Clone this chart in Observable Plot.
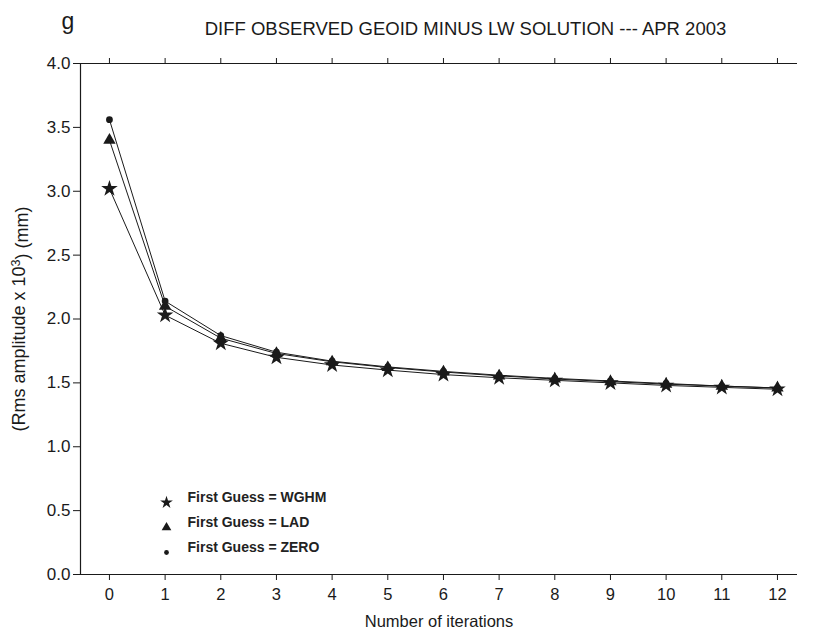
<!DOCTYPE html>
<html>
<head>
<meta charset="utf-8">
<script src="https://cdn.jsdelivr.net/npm/d3@7"></script>
<script src="https://cdn.jsdelivr.net/npm/@observablehq/plot@0.6"></script>
<style>
  html, body { margin: 0; padding: 0; background: #fff; }
  #chart svg { display: block; }
</style>
</head>
<body>
<div id="chart"></div>
<script>
const iterations = [0, 1, 2, 3, 4, 5, 6, 7, 8, 9, 10, 11, 12];
const wghm = [3.02, 2.03, 1.81, 1.70, 1.64, 1.60, 1.565, 1.54, 1.52, 1.50, 1.48, 1.465, 1.45];
const lad  = [3.40, 2.10, 1.85, 1.73, 1.665, 1.62, 1.585, 1.555, 1.53, 1.51, 1.49, 1.475, 1.46];
const zero = [3.56, 2.14, 1.87, 1.74, 1.67, 1.625, 1.59, 1.56, 1.535, 1.515, 1.495, 1.475, 1.46];
const seriesNames = ["First Guess = WGHM", "First Guess = LAD", "First Guess = ZERO"];
const seriesSymbols = ["star", "triangle", "circle"];
const seriesSizes = [5.2, 4.6, 3.4];
const legendSizes = [4, 3.6, 2.4];
const yTicks = [0, 0.5, 1.0, 1.5, 2.0, 2.5, 3.0, 3.5, 4.0];
const xDomain = [-0.52, 12.36];
const yDomain = [0, 4];
const panelLetter = "g";
const title = "DIFF OBSERVED GEOID MINUS LW SOLUTION --- APR 2003";
const xLabel = "Number of iterations";
const yLabel = "(Rms amplitude x 10³) (mm)";

const allValues = [wghm, lad, zero];
const rows = [];
allValues.forEach((vals, s) => vals.forEach((v, i) => rows.push({x: iterations[i], y: v, s})));
const legendRows = seriesNames.map((name, s) => ({name, s}));

const ink = "#1a1a1a";
const font = "'Liberation Sans', Arial, sans-serif";

const marks = [
  // frame: left, top, bottom
  Plot.ruleX([xDomain[0]], {stroke: ink, strokeWidth: 1.2}),
  Plot.ruleY([yDomain[0]], {stroke: ink, strokeWidth: 1.2}),
  Plot.ruleY([yDomain[1]], {stroke: ink, strokeWidth: 1.2}),
  Plot.axisY(yTicks, {anchor: "left", tickSize: 7, tickPadding: 3, tickFormat: d3.format(".1f"), label: null, fontSize: 17, stroke: ink, fill: ink}),
  Plot.axisX(iterations, {anchor: "bottom", tickSize: 6, tickPadding: 8, tickFormat: d => String(d), label: null, fontSize: 16.5, stroke: ink, fill: ink}),
  Plot.axisX(iterations, {anchor: "top", tickSize: 6, tickFormat: () => "", label: null, stroke: ink}),
  ...allValues.map((vals, s) =>
    Plot.line(rows.filter(r => r.s === s), {x: "x", y: "y", stroke: ink, strokeWidth: 1})
  ),
  ...allValues.map((vals, s) =>
    Plot.dot(rows.filter(r => r.s === s), {x: "x", y: "y", symbol: () => seriesSymbols[s], r: seriesSizes[s], fill: ink, stroke: "none"})
  ),
  // legend
  ...legendRows.map((d, s) =>
    Plot.dot([d], {frameAnchor: "bottom-left", dx: 86, dy: -72 + s * 25, symbol: () => seriesSymbols[s], r: legendSizes[s], fill: ink, stroke: "none"})
  ),
  ...legendRows.map((d, s) =>
    Plot.text([d], {frameAnchor: "bottom-left", text: "name", dx: 107, dy: -73 + s * 25, textAnchor: "start", fontWeight: "bold", fontSize: 14, fill: "#222"})
  ),
  // title & panel letter
  Plot.text([title], {frameAnchor: "top-left", text: d => d, dy: -42, dx: 385, textAnchor: "middle", fontSize: 18.5, fill: ink}),
  Plot.text([panelLetter], {frameAnchor: "top-left", text: d => d, dx: -19, dy: -51, fontSize: 23, textAnchor: "start", fill: ink}),
  Plot.text([xLabel], {frameAnchor: "bottom", text: d => d, dy: 52, dx: 0, fontSize: 16.5, fill: ink}),
  Plot.text([yLabel], {frameAnchor: "left", text: d => d, dx: -61, rotate: -90, textAnchor: "middle", fontSize: 18, fill: ink})
];

const chart = Plot.plot({
  width: 827,
  height: 635,
  marginLeft: 80,
  marginRight: 30,
  marginTop: 63,
  marginBottom: 61,
  style: {fontFamily: font, background: "#fff", color: ink, overflow: "visible"},
  x: {domain: xDomain, axis: null},
  y: {domain: yDomain, axis: null},
  marks
});
document.getElementById("chart").appendChild(chart);

// render the exponent as a real superscript
d3.select(chart).selectAll("text").each(function() {
  const el = d3.select(this);
  if (el.text() === yLabel) {
    el.text(null);
    el.append("tspan").text("(Rms amplitude x 10");
    el.append("tspan").attr("dy", "-0.45em").attr("font-size", "0.7em").text("3");
    el.append("tspan").attr("dy", "0.45em").text(") (mm)");
  }
});
</script>
</body>
</html>
